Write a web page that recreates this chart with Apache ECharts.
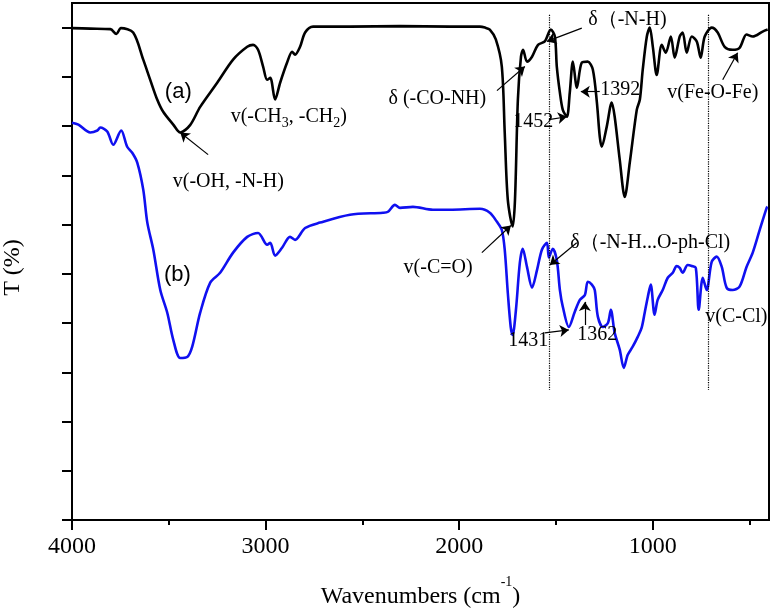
<!DOCTYPE html>
<html><head><meta charset="utf-8">
<script src="https://cdn.jsdelivr.net/npm/echarts@6/dist/echarts.min.js"></script>
<style>html,body{margin:0;padding:0;background:#fff}#c{width:774px;height:613px}</style>
</head><body><div id="c"></div>
<script>
// Curve (a)
const wnA = [4000,3906,3802,3771,3747,3684,3632,3596,3560,3529,3477,3441,3390,3338,3250,3168,3095,3065,3039,3013,2992,2976,2951,2925,2889,2863,2848,2822,2796,2755,2564,2306,2048,1893,1867,1842,1811,1780,1765,1749,1724,1712,1697,1681,1670,1650,1624,1593,1558,1527,1506,1496,1480,1465,1444,1429,1413,1392,1367,1336,1310,1289,1274,1264,1238,1212,1197,1171,1145,1119,1083,1067,1052,1031,1016,1000,980,954,933,907,887,861,846,825,799,773,753,732,696,665,629,588,552,516,484,433,407];
const tA = [9.99,9.98,9.97,9.87,9.99,9.90,9.35,8.94,8.54,8.29,8.03,7.87,8.02,8.39,8.88,9.35,9.61,9.65,9.55,9.21,8.94,8.98,8.54,8.88,9.29,9.51,9.45,9.61,9.90,10.02,10.02,10.03,10.02,10.02,10.0,9.96,9.76,9.21,7.87,6.50,5.96,6.50,8.54,9.41,9.55,9.31,9.41,9.65,9.72,9.96,9.82,9.21,8.68,8.33,8.19,8.68,9.31,8.78,9.29,9.31,9.15,8.48,7.78,7.58,7.99,8.48,8.19,7.32,6.56,7.26,8.33,8.54,9.15,9.82,10.0,9.61,9.04,9.65,9.49,9.82,9.39,9.82,9.90,9.49,9.82,9.72,9.39,9.82,10.0,9.90,9.61,9.55,9.59,9.86,9.82,9.92,9.96];
// Curve (b)
const wnB = [4000,3967,3906,3869,3854,3818,3787,3746,3715,3689,3663,3632,3611,3580,3544,3508,3477,3441,3405,3379,3338,3286,3235,3168,3095,3039,2992,2976,2951,2915,2874,2848,2796,2719,2564,2394,2368,2332,2306,2239,2136,2048,1893,1842,1806,1780,1765,1749,1734,1724,1707,1687,1672,1650,1624,1598,1573,1547,1537,1517,1496,1480,1465,1434,1403,1377,1351,1336,1315,1300,1284,1258,1232,1217,1197,1171,1150,1130,1104,1078,1058,1042,1026,1011,991,975,949,923,897,877,861,846,820,799,778,763,742,722,696,670,644,619,588,552,516,484,448,412,407];
const tB = [8.07,8.03,7.87,7.91,7.97,7.89,7.62,7.91,7.58,7.46,7.26,6.71,6.04,5.49,4.67,4.21,3.66,3.29,3.31,3.52,4.21,4.82,5.02,5.43,5.75,5.83,5.59,5.63,5.37,5.53,5.75,5.69,5.93,6.04,6.20,6.24,6.26,6.40,6.34,6.36,6.30,6.30,6.32,6.24,6.06,5.89,5.49,4.61,3.92,3.76,4.27,5.22,5.51,5.14,4.72,5.08,5.49,5.63,5.33,5.51,5.28,4.67,4.33,3.92,4.23,4.47,4.57,4.84,4.78,4.67,4.13,3.92,4.00,4.27,3.80,3.46,3.09,3.35,3.52,3.72,3.90,4.21,4.53,4.78,4.17,4.47,4.67,4.92,5.02,5.16,5.12,5.02,5.18,5.16,5.12,4.27,4.92,4.67,5.24,5.35,5.14,4.72,4.67,4.74,5.14,5.43,5.89,6.34,6.36];

// Axis ticks
const xTicks = [1000,2000,3000,4000];
const xMinorTicks = [500,1500,2500,3500];
const yTicks = [0,1,2,3,4,5,6,7,8,9,10];

// Dotted guide lines (wavenumber, top T, bottom T)
const guideWn = [1537, 712];
const guideRange = [10.26, 2.64];

// Annotations
const annoText = ['v(-OH, -N-H)','v(-CH{s|3}, -CH{s|2})','δ (-CO-NH)','δ（-N-H)','1452','1392','v(Fe-O-Fe)','v(-C=O)','δ（-N-H...O-ph-Cl)','1431','1362','v(C-Cl)'];
const annoWn = [3482,3183,2368,1336,1723,1274,928,2290,1429,1749,1393,732];
const annoT = [6.87,8.19,8.56,10.16,8.09,8.74,8.68,5.12,5.63,3.64,3.76,4.13];

const curveNames = ['(a)','(b)'];
const curveNameWn = [3451,3456];
const curveNameT = [8.70,4.98];

// Arrows [from -> to] in data coordinates
const arrowFrom = [[3297,7.42],[1805,8.72],[1367,9.99],[1537,8.13],[1274,8.70],[639,8.94],[1883,5.43],[1393,5.63],[1558,3.80],[1351,3.96]];
const arrowTo   = [[3441,7.87],[1661,9.21],[1547,9.72],[1444,8.19],[1372,8.70],[562,9.49],[1733,5.98],[1532,5.18],[1434,3.86],[1351,4.43]];

const SERIF = 'Liberation Serif';
const chart = echarts.init(document.getElementById('c'));

const annoData = annoText.map((t,i)=>({
  value:[annoWn[i], annoT[i]],
  label:{show:true, position:'right', distance:0, formatter:t, color:'#000', opacity:1}
}));
const nameData = curveNames.map((t,i)=>({
  value:[curveNameWn[i], curveNameT[i]],
  label:{show:true, position:'inside', formatter:t, fontFamily:'Liberation Sans', fontSize:22, color:'#000', opacity:1}
}));

chart.setOption({
  animation:false,
  grid:{left:72, right:5, top:3, bottom:93, outerBoundsMode:'none', containLabel:false,
        show:true, borderColor:'#000', borderWidth:2, backgroundColor:'transparent'},
  xAxis:[{
    type:'value', min:400, max:4000, inverse:true,
    axisLine:{show:true, lineStyle:{color:'#000', width:2}},
    axisTick:{show:true, customValues:xTicks, length:10, lineStyle:{color:'#000', width:2}},
    axisLabel:{customValues:xTicks, formatter:v=>String(v), fontFamily:SERIF, fontSize:24, color:'#000', margin:15},
    splitLine:{show:false},
    name:'Wavenumbers (cm{sup|-1})', nameLocation:'middle', nameGap:55,
    nameTextStyle:{fontFamily:SERIF, fontSize:24, color:'#000',
      rich:{sup:{fontFamily:SERIF, fontSize:14, color:'#000', verticalAlign:'top', padding:[0,0,30,0]}}}
  },{
    type:'value', min:400, max:4000, inverse:true, position:'bottom',
    axisLine:{show:false},
    axisTick:{show:true, customValues:xMinorTicks, length:5, lineStyle:{color:'#000', width:2}},
    axisLabel:{show:false}, splitLine:{show:false}
  }],
  yAxis:{
    type:'value', min:0, max:10.5,
    axisLine:{show:true, lineStyle:{color:'#000', width:2}},
    axisTick:{show:true, customValues:yTicks, length:10, lineStyle:{color:'#000', width:2}},
    axisLabel:{show:false}, splitLine:{show:false},
    name:'T (%)', nameLocation:'middle', nameGap:47,
    nameTextStyle:{fontFamily:SERIF, fontSize:24, color:'#000', padding:[0,12,0,0]}
  },
  series:[
    {type:'line', name:'b', data:wnB.map((w,i)=>[w,tB[i]]), showSymbol:false, smooth:0.3,
     lineStyle:{color:'#1010f0', width:2.6}, z:2},
    {type:'line', name:'a', data:wnA.map((w,i)=>[w,tA[i]]), showSymbol:false, smooth:0.3,
     lineStyle:{color:'#000', width:2.6}, z:3,
     markLine:{silent:true, symbol:'none', label:{show:false},
       lineStyle:{color:'#000', width:1.2, type:'dotted'},
       data:guideWn.map(w=>[{coord:[w,guideRange[0]]},{coord:[w,guideRange[1]]}])}},
    {type:'scatter', data:annoData.concat(nameData), symbolSize:1, itemStyle:{color:'rgba(0,0,0,0)'}, z:5, silent:true,
     label:{show:true, fontFamily:SERIF, fontSize:20, color:'#000', opacity:1,
       rich:{s:{fontFamily:SERIF, fontSize:14, color:'#000', verticalAlign:'bottom', padding:[14,0,0,0]}}},
     markLine:{silent:true, symbol:['none','arrow'], symbolSize:9, label:{show:false},
       lineStyle:{color:'#000', width:1.2, type:'solid'},
       data:arrowFrom.map((f,i)=>[{coord:f},{coord:arrowTo[i]}])}}
  ]
});
</script></body></html>
